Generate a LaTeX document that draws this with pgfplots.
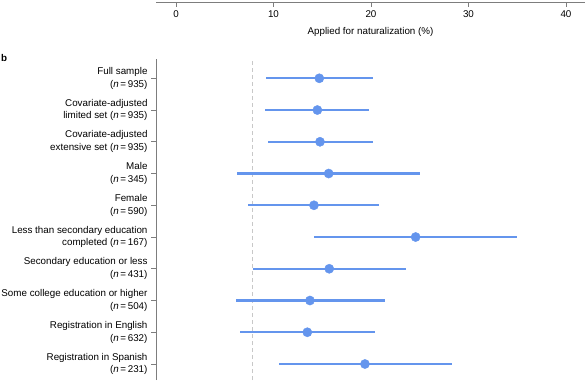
\documentclass[border=0pt]{standalone}
\usepackage{pgfplots}
\usepackage{pgfplotstable}
\pgfplotsset{compat=1.18}
\usepackage{fontspec}
\setmainfont{Liberation Sans}
\definecolor{ptblue}{RGB}{100,149,237}
\definecolor{axgray}{RGB}{125,125,125}
\definecolor{dashgray}{RGB}{200,200,200}

\pgfplotstableread{
y lo c hi
9 9.23 14.70 20.17
8 9.16 14.50 19.80
7 9.44 14.77 20.17
6 6.29 15.66 25.03
5 7.42 14.15 20.85
4 14.20 24.58 35.00
3 7.87 15.72 23.62
2 6.15 13.74 21.40
1 6.56 13.47 20.41
0 10.56 19.38 28.34
}\data

\begin{document}
\begin{tikzpicture}[x=1pt,y=1pt,font=\fontsize{9.8}{12.7}\selectfont]
% top panel axis (panel a, cut off)
\begin{axis}[
  at={(156pt,378pt)}, anchor=south west,
  scale only axis, width=429pt, height=20pt,
  xmin=-2.05, xmax=41.95, ymin=0, ymax=1,
  axis x line*=bottom, axis y line=none,
  xtick={0,10,20,30,40}, xtick align=outside, major tick length=5pt,
  x axis line style={axgray, line width=0.8pt, -},
  tick style={axgray, line width=0.8pt},
  xlabel={Applied for naturalization (\%)},
  /pgf/number format/assume math mode=true,
  xticklabel style={font=\fontsize{9.8}{12}\selectfont, text=black},
  xlabel style={font=\fontsize{9.8}{12}\selectfont, text=black, yshift=-3pt},
]
\addplot[draw=none] coordinates {(0,0.5)};
\end{axis}
% panel b
\begin{axis}[
  at={(156pt,0pt)}, anchor=south west,
  scale only axis, width=429pt, height=321pt,
  xmin=-2.05, xmax=41.95, ymin=-0.504, ymax=9.608,
  axis y line*=left, axis x line=none,
  y axis line style={axgray, line width=0.8pt, -},
  tick style={axgray, line width=0.8pt},
  ytick={0,1,2,3,4,5,6,7,8,9}, ytick align=outside, major tick length=5pt,
  yticklabel style={align=right, text=black, font=\fontsize{9.8}{12.7}\selectfont},
  yticklabels={
    {Registration in Spanish\\(\textit{n}\,=\,231)},
    {Registration in English\\(\textit{n}\,=\,632)},
    {Some college education or higher\\(\textit{n}\,=\,504)},
    {Secondary education or less\\(\textit{n}\,=\,431)},
    {Less than secondary education\\completed (\textit{n}\,=\,167)},
    {Female\\(\textit{n}\,=\,590)},
    {Male\\(\textit{n}\,=\,345)},
    {Covariate-adjusted\\extensive set (\textit{n}\,=\,935)},
    {Covariate-adjusted\\limited set (\textit{n}\,=\,935)},
    {Full sample\\(\textit{n}\,=\,935)}
  },
  clip=false,
]
\addplot[dashgray, line width=1pt, dash pattern=on 4pt off 3pt] coordinates {(7.87,-0.504) (7.87,9.608)};
\addplot[only marks, mark=none,
  error bars/.cd, x dir=both, x explicit, error mark=none,
  error bar style={draw=ptblue, line width=2.4pt}]
  table[x=c, y=y, x error plus expr=\thisrow{hi}-\thisrow{c}, x error minus expr=\thisrow{c}-\thisrow{lo}] {\data};
\addplot[only marks, mark=*, mark size=4.6pt, color=ptblue, mark options={fill=ptblue, draw=ptblue}]
  table[x=c, y=y] {\data};
\end{axis}
\node[anchor=west, font=\fontsize{9.8}{12}\selectfont\bfseries, inner sep=0pt] at (1,322) {b};
\pgfresetboundingbox
\useasboundingbox (0,0) rectangle (585,380);
\end{tikzpicture}
\end{document}
